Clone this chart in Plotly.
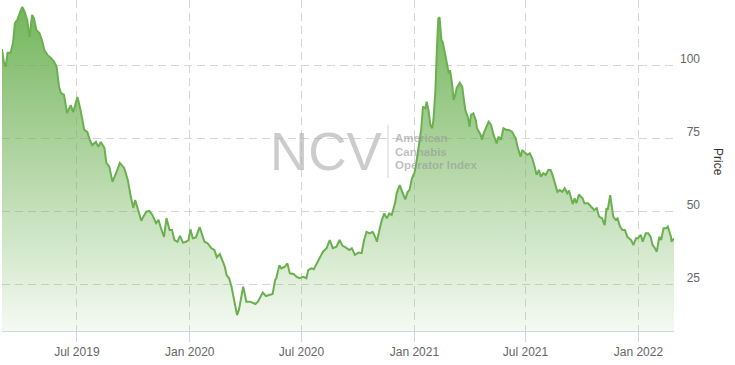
import plotly.graph_objects as go

dates = [
    "2019-03-01","2019-03-04","2019-03-07","2019-03-10","2019-03-15","2019-03-19","2019-03-22","2019-03-26","2019-03-30","2019-04-03",
    "2019-04-07","2019-04-11","2019-04-15","2019-04-19","2019-04-22","2019-04-26","2019-05-01","2019-05-05","2019-05-09","2019-05-14",
    "2019-05-20","2019-05-25","2019-05-29","2019-06-02","2019-06-05","2019-06-10","2019-06-15","2019-06-21","2019-06-25","2019-07-02",
    "2019-07-07","2019-07-13","2019-07-18","2019-07-22","2019-07-26","2019-08-01","2019-08-05","2019-08-09","2019-08-15","2019-08-18",
    "2019-08-23","2019-08-28","2019-09-03","2019-09-09","2019-09-16","2019-09-22","2019-09-27","2019-10-01","2019-10-04","2019-10-10",
    "2019-10-14","2019-10-16","2019-10-22","2019-10-27","2019-11-01","2019-11-07","2019-11-11","2019-11-15","2019-11-20","2019-11-24",
    "2019-11-29","2019-12-03","2019-12-07","2019-12-12","2019-12-16","2019-12-21","2019-12-26","2019-12-30","2020-01-02","2020-01-06",
    "2020-01-11","2020-01-17","2020-01-21","2020-01-25","2020-01-30","2020-02-05","2020-02-10","2020-02-14","2020-02-19","2020-02-23",
    "2020-02-27","2020-03-01","2020-03-05","2020-03-09","2020-03-13","2020-03-16","2020-03-18","2020-03-21","2020-03-25","2020-03-28",
    "2020-03-31","2020-04-02","2020-04-08","2020-04-13","2020-04-17","2020-04-21","2020-04-25","2020-04-29","2020-05-04","2020-05-09",
    "2020-05-15","2020-05-19","2020-05-21","2020-05-26","2020-05-29","2020-06-04","2020-06-08","2020-06-12","2020-06-18","2020-06-23",
    "2020-06-28","2020-07-04","2020-07-09","2020-07-12","2020-07-17","2020-07-21","2020-07-26","2020-07-31","2020-08-05","2020-08-11",
    "2020-08-16","2020-08-21","2020-08-27","2020-09-01","2020-09-06","2020-09-11","2020-09-17","2020-09-21","2020-09-26","2020-10-02",
    "2020-10-07","2020-10-11","2020-10-15","2020-10-20","2020-10-25","2020-10-29","2020-11-01","2020-11-05","2020-11-09","2020-11-13",
    "2020-11-17","2020-11-21","2020-11-25","2020-12-01","2020-12-03","2020-12-08","2020-12-12","2020-12-17","2020-12-21","2020-12-24",
    "2020-12-28","2021-01-01","2021-01-04","2021-01-08","2021-01-12","2021-01-15","2021-01-19","2021-01-21","2021-01-24","2021-01-27",
    "2021-01-30","2021-02-01","2021-02-04","2021-02-07","2021-02-09","2021-02-11","2021-02-14","2021-02-16","2021-02-20","2021-02-23",
    "2021-02-26","2021-02-28","2021-03-03","2021-03-06","2021-03-09","2021-03-11","2021-03-16","2021-03-20","2021-03-22","2021-03-25",
    "2021-03-29","2021-04-01","2021-04-03","2021-04-07","2021-04-11","2021-04-13","2021-04-19","2021-04-21","2021-04-24","2021-04-28",
    "2021-05-02","2021-05-06","2021-05-10","2021-05-15","2021-05-18","2021-05-22","2021-05-26","2021-05-31","2021-06-04","2021-06-09",
    "2021-06-15","2021-06-18","2021-06-23","2021-06-26","2021-06-29","2021-07-04","2021-07-08","2021-07-12","2021-07-16","2021-07-19",
    "2021-07-23","2021-07-26","2021-07-30","2021-08-03","2021-08-07","2021-08-11","2021-08-14","2021-08-18","2021-08-22","2021-08-26",
    "2021-08-30","2021-09-03","2021-09-07","2021-09-10","2021-09-13","2021-09-16","2021-09-19","2021-09-22","2021-09-26","2021-10-02",
    "2021-10-05","2021-10-11","2021-10-16","2021-10-21","2021-10-25","2021-10-29","2021-11-03","2021-11-07","2021-11-10","2021-11-12",
    "2021-11-16","2021-11-18","2021-11-21","2021-11-25","2021-11-28","2021-12-02","2021-12-06","2021-12-10","2021-12-14","2021-12-20",
    "2021-12-24","2021-12-28","2021-12-31","2022-01-05","2022-01-08","2022-01-13","2022-01-17","2022-01-21","2022-01-24","2022-01-28",
    "2022-01-31","2022-02-04","2022-02-07","2022-02-11","2022-02-15","2022-02-18","2022-02-23","2022-02-24","2022-02-28",
]

prices = [
    105.8,101.4,99.7,104.5,104.5,107.9,114.7,115.8,118.2,120.2,
    118.5,115.8,109.9,117.5,116.4,112.3,111.3,108.9,105.5,103.8,
    102.7,101.4,99.7,92.8,90.8,90.1,83.9,86.6,84.2,89.4,
    84.9,78.1,77.4,74.7,72.9,74.0,72.3,74.0,71.9,66.8,
    65.4,60.3,63.4,66.8,65.1,61.0,55.1,51.4,54.1,49.7,
    47.0,47.9,50.1,50.4,49.0,46.2,47.3,44.5,41.5,47.9,
    43.8,43.8,40.4,39.8,41.8,39.5,39.8,40.4,44.1,41.0,
    41.3,44.8,42.1,39.8,39.3,37.6,37.0,34.5,35.6,33.6,
    31.3,28.4,27.3,24.4,19.9,17.6,14.7,16.4,21.0,24.4,
    21.6,19.3,19.3,18.7,18.5,19.3,21.0,22.4,21.2,21.6,
    21.9,26.7,27.3,31.8,30.7,31.3,32.4,29.0,28.8,27.8,
    27.3,27.8,27.3,30.1,30.7,30.4,32.4,34.1,36.4,37.6,
    40.4,37.6,38.1,40.4,38.4,37.9,37.0,37.6,35.3,36.1,
    35.9,40.4,43.2,42.7,43.2,41.5,39.8,43.8,47.3,49.5,
    47.8,49.5,49.0,53.5,56.4,59.2,56.9,54.3,56.9,57.5,
    61.5,63.3,66.7,72.4,78.1,86.1,85.5,87.8,84.9,79.8,
    78.7,81.5,90.6,107.8,116.3,116.7,108.9,108.3,103.2,100.9,
    97.5,98.6,94.6,88.4,90.6,92.5,94.3,92.9,89.5,84.9,
    82.5,79.2,83.2,83.8,81.5,78.7,76.4,74.7,77.0,78.7,
    80.9,79.8,76.4,73.5,75.8,74.7,78.7,78.1,78.1,77.5,
    75.2,72.4,68.9,71.2,70.6,69.5,70.1,68.4,65.5,62.7,
    64.4,62.1,63.3,62.7,64.4,64.4,62.7,59.8,56.9,57.5,
    56.9,58.1,56.4,57.3,55.2,52.7,54.7,53.0,56.0,54.7,
    53.0,53.0,51.8,50.7,51.3,48.4,47.8,45.5,51.3,50.7,
    55.8,53.0,48.4,47.3,47.8,45.0,43.8,43.8,41.5,40.4,
    38.7,41.0,41.0,42.1,39.8,42.7,42.7,41.5,38.7,37.6,
    36.4,41.5,40.4,44.4,44.4,45.0,41.5,39.8,41.0,
]

x_tick_vals = ["2019-07-01", "2020-01-01", "2020-07-01", "2021-01-01", "2021-07-01", "2022-01-01"]
x_tick_text = ["Jul 2019", "Jan 2020", "Jul 2020", "Jan 2021", "Jul 2021", "Jan 2022"]
y_tick_vals = [25, 50, 75, 100]
y_range = [9.24, 122.6]

W, H = 735, 365
ML, MR, MT, MB = 2, 20, 0, 34
PW = W - ML - MR
PH = H - MT - MB

def px(x):
    return (x - ML) / PW

def py(y):
    return (H - MB - y) / PH

FONT = "Liberation Sans, Arial, sans-serif"
LINE = "#6ab04f"

fig = go.Figure()
fig.add_trace(go.Scatter(
    x=dates, y=prices, mode="lines",
    line=dict(color=LINE, width=2),
    fill="tozeroy",
    fillgradient=dict(
        type="vertical",
        start=y_range[0], stop=y_range[1],
        colorscale=[[0, "rgba(106,176,80,0.07)"], [1, "rgba(106,176,80,0.95)"]],
    ),
    showlegend=False,
    hoverinfo="skip",
))

fig.update_layout(
    width=W, height=H,
    margin=dict(l=ML, r=MR, t=MT, b=MB, pad=0),
    paper_bgcolor="white", plot_bgcolor="white",
    font=dict(family=FONT, size=12, color="#666666"),
    xaxis=dict(
        domain=[0, px(674)],
        type="date",
        range=[dates[0], dates[-1]],
        tickvals=x_tick_vals, ticktext=x_tick_text,
        showgrid=True, gridcolor="#d6d6d6", gridwidth=1, griddash="8px,5px",
        showline=True, linecolor="#ccd6eb", linewidth=1,
        ticks="outside", ticklen=10, tickcolor="#ccd6eb", tickwidth=1,
        tickfont=dict(family=FONT, size=12, color="#666666"),
        zeroline=False,
    ),
    yaxis=dict(
        range=y_range,
        side="right", anchor="free", position=px(703),
        tickvals=y_tick_vals,
        ticklabelposition="inside",
        ticklabelshift=-7,
        showgrid=True, gridcolor="#d6d6d6", gridwidth=1, griddash="8px,5px",
        showline=False, ticks="", zeroline=False,
        tickfont=dict(family=FONT, size=12, color="#666666"),
    ),
)

# axis title
fig.add_annotation(
    text="Price", xref="paper", yref="paper", x=px(718), y=py(162),
    showarrow=False, textangle=90, font=dict(family=FONT, size=12, color="#333333"),
    xanchor="center", yanchor="middle",
)

# watermark
fig.add_annotation(
    text="NCV", xref="paper", yref="paper", x=px(326), y=py(152),
    showarrow=False, font=dict(family=FONT, size=53, color="rgba(170,170,170,0.6)"),
    xanchor="center", yanchor="middle",
)
fig.add_shape(
    type="line", xref="paper", yref="paper",
    x0=px(388), x1=px(388), y0=py(178), y1=py(125),
    line=dict(color="rgba(170,170,170,0.5)", width=1),
)
for txt, yy in [("American", 138), ("Cannabis", 151.5), ("Operator Index", 165)]:
    fig.add_annotation(
        text="<b>" + txt + "</b>", xref="paper", yref="paper", x=px(393), y=py(yy),
        showarrow=False, font=dict(family=FONT, size=11.5, color="rgba(150,150,150,0.6)"),
        xanchor="left", yanchor="middle",
    )

fig.write_html("out.html")
